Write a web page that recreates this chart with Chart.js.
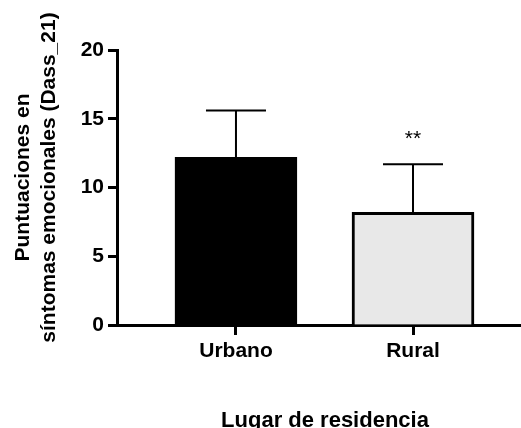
<!DOCTYPE html>
<html>
<head>
<meta charset="utf-8">
<script src="https://cdn.jsdelivr.net/npm/chart.js@4"></script>
<style>
  html, body { margin: 0; padding: 0; background: #fff; }
  #wrap { width: 521px; height: 428px; }
</style>
</head>
<body>
<div id="wrap"><canvas id="chart"></canvas></div>
<script>
// values
const categories = ['Urbano', 'Rural'];
const means = [12.2, 8.2];
const errorTops = [15.6, 11.7];
const significance = ['', '**'];
const yTicks = [0, 5, 10, 15, 20];
const yTitle = ['Puntuaciones en', 'síntomas emocionales (Dass_21)'];
const xTitle = 'Lugar de residencia';

const fontFamily = '"Liberation Sans", Arial, sans-serif';

// mean + error bars, with the significance stars above
const errorBars = {
    id: 'errorBars',
    afterDatasetsDraw(chart) {
        const { ctx, scales: { x, y } } = chart;
        ctx.save();
        ctx.strokeStyle = '#000';
        ctx.lineWidth = 2;
        means.forEach((m, i) => {
            const px = x.getPixelForValue(i + 1);
            const top = y.getPixelForValue(errorTops[i]);
            const base = y.getPixelForValue(m);
            ctx.beginPath();
            ctx.moveTo(px, base);
            ctx.lineTo(px, top);
            ctx.moveTo(px - 30, top);
            ctx.lineTo(px + 30, top);
            ctx.stroke();
            if (significance[i]) {
                ctx.fillStyle = '#000';
                ctx.font = '21px ' + fontFamily;
                ctx.textAlign = 'center';
                ctx.textBaseline = 'alphabetic';
                ctx.fillText(significance[i], px, top - 19);
            }
        });
        ctx.restore();
    }
};

// axis titles (y one is two lines, rotated)
const axisTitles = {
    id: 'axisTitles',
    afterDraw(chart) {
        const { ctx, chartArea } = chart;
        const cy = (chartArea.top + chartArea.bottom) / 2 - 10;
        ctx.save();
        ctx.fillStyle = '#000';
        ctx.textAlign = 'center';

        ctx.font = 'bold 22px ' + fontFamily;
        ctx.textBaseline = 'alphabetic';
        ctx.fillText(xTitle, (chartArea.left + chartArea.right) / 2 + 6, 427);

        ctx.translate(23, cy);
        ctx.rotate(-Math.PI / 2);
        ctx.font = 'bold 21px ' + fontFamily;
        ctx.textBaseline = 'middle';
        yTitle.forEach((line, i) => ctx.fillText(line, 0, i * 26));
        ctx.restore();
    }
};

new Chart(document.getElementById('chart'), {
    type: 'bar',
    data: {
        datasets: [{
            data: categories.map((c, i) => ({ x: i + 1, y: means[i] })),
            backgroundColor: ['#000000', '#e8e8e8'],
            borderColor: '#000000',
            borderWidth: 3,
            barThickness: 122
        }]
    },
    options: {
        responsive: true,
        maintainAspectRatio: false,
        animation: false,
        layout: { padding: { top: 50, right: 0, bottom: 0, left: 0 } },
        plugins: {
            legend: { display: false },
            tooltip: { enabled: false }
        },
        scales: {
            x: {
                type: 'linear',
                offset: false,
                bounds: 'data',
                min: 0.328,
                max: 2.61,
                afterBuildTicks(axis) {
                    axis.ticks = categories.map((c, i) => ({ value: i + 1 }));
                },
                afterFit(scale) { scale.height = 103; },
                border: { color: '#000', width: 3 },
                grid: {
                    offset: false,
                    drawOnChartArea: false,
                    tickColor: '#000',
                    tickWidth: 3,
                    tickLength: 10
                },
                ticks: {
                    color: '#000',
                    font: { family: fontFamily, size: 21, weight: 'bold' },
                    padding: 4,
                    maxRotation: 0,
                    callback: (v) => categories[v - 1]
                }
            },
            y: {
                min: 0,
                max: 20,
                afterBuildTicks(axis) {
                    axis.ticks = yTicks.map(v => ({ value: v }));
                },
                afterFit(scale) { scale.width = 117; },
                border: { color: '#000', width: 3 },
                grid: {
                    drawOnChartArea: false,
                    tickColor: '#000',
                    tickWidth: 3,
                    tickLength: 9
                },
                ticks: {
                    color: '#000',
                    font: { family: fontFamily, size: 21, weight: 'bold' },
                    padding: 4
                }
            }
        }
    },
    plugins: [errorBars, axisTitles]
});
</script>
</body>
</html>
